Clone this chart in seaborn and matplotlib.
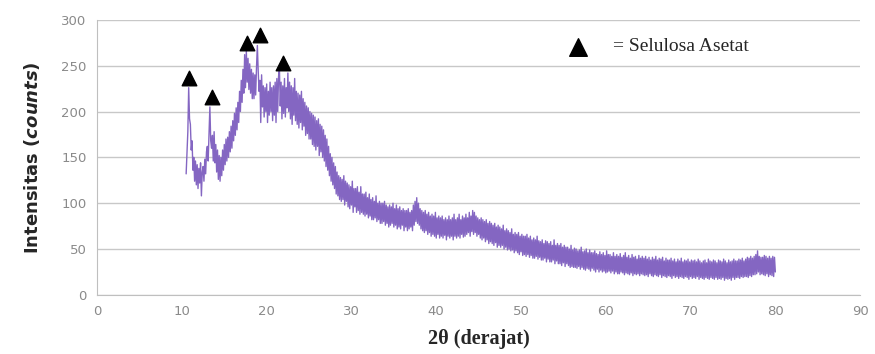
import numpy as np
import pandas as pd
import seaborn as sns
import matplotlib.pyplot as plt

# intensity, one value every 0.1 deg of 2-theta starting at 10.5
intensity = [
    132, 155, 178, 226, 192, 186, 158, 168, 136, 150,
    124, 146, 120, 142, 116, 138, 122, 144, 108, 134,
    140, 124, 148, 132, 156, 162, 146, 176, 205, 168,
    160, 174, 146, 178, 144, 164, 134, 158, 126, 152,
    124, 150, 130, 158, 136, 164, 142, 170, 146, 172,
    150, 178, 156, 184, 160, 190, 168, 198, 174, 204,
    180, 210, 188, 222, 200, 234, 210, 246, 220, 262,
    226, 266, 232, 258, 224, 252, 220, 246, 214, 242,
    214, 240, 218, 248, 272, 244, 222, 234, 188, 240,
    205, 228, 194, 226, 200, 230, 188, 222, 196, 232,
    200, 226, 190, 228, 196, 232, 188, 236, 200, 238,
    248, 206, 232, 192, 228, 198, 236, 194, 226, 204,
    242, 200, 232, 192, 228, 186, 226, 196, 236, 190,
    222, 186, 220, 182, 218, 188, 222, 180, 214, 184,
    210, 174, 206, 176, 204, 170, 200, 170, 198, 164,
    196, 162, 194, 158, 190, 162, 192, 152, 186, 156,
    184, 150, 180, 146, 174, 140, 170, 136, 162, 130,
    154, 124, 150, 120, 144, 116, 140, 110, 134, 108,
    130, 104, 128, 102, 126, 104, 130, 98, 124, 102,
    122, 96, 120, 94, 118, 98, 124, 90, 116, 96,
    116, 90, 118, 92, 112, 88, 118, 90, 110, 88,
    110, 86, 112, 88, 106, 84, 110, 86, 104, 82,
    106, 82, 102, 84, 108, 80, 100, 82, 102, 78,
    100, 78, 100, 80, 102, 76, 98, 78, 96, 74,
    98, 76, 96, 78, 100, 74, 94, 76, 98, 72,
    94, 74, 96, 72, 92, 76, 94, 70, 92, 74,
    92, 70, 94, 72, 90, 74, 92, 70, 98, 76,
    102, 80, 106, 78, 100, 76, 94, 72, 92, 70,
    90, 68, 92, 70, 88, 66, 90, 68, 86, 64,
    88, 66, 86, 64, 90, 62, 84, 66, 86, 62,
    84, 64, 86, 62, 82, 65, 84, 60, 82, 64,
    86, 62, 82, 64, 84, 60, 88, 64, 82, 62,
    84, 64, 88, 62, 82, 66, 86, 63, 84, 64,
    88, 66, 84, 68, 90, 64, 86, 69, 92, 66,
    90, 68, 86, 64, 84, 66, 82, 62, 84, 60,
    82, 62, 80, 58, 82, 60, 78, 56, 80, 58,
    78, 56, 76, 54, 78, 57, 74, 52, 76, 54,
    74, 52, 72, 54, 76, 50, 70, 52, 72, 49,
    70, 50, 68, 48, 72, 49, 66, 46, 68, 48,
    66, 46, 68, 44, 64, 47, 66, 43, 64, 44,
    64, 42, 66, 44, 62, 41, 64, 43, 60, 40,
    62, 40, 60, 42, 64, 39, 59, 41, 58, 38,
    60, 38, 56, 40, 59, 36, 58, 39, 56, 36,
    58, 36, 54, 38, 60, 34, 54, 37, 56, 34,
    54, 34, 56, 32, 52, 35, 54, 31, 52, 34,
    52, 32, 50, 30, 54, 31, 49, 30, 51, 30,
    50, 29, 48, 31, 49, 28, 52, 30, 47, 28,
    48, 27, 50, 29, 46, 28, 49, 26, 46, 29,
    46, 27, 48, 25, 45, 28, 44, 25, 47, 27,
    44, 25, 46, 26, 43, 24, 48, 25, 44, 26,
    44, 24, 42, 26, 46, 23, 42, 25, 44, 23,
    42, 23, 45, 25, 41, 24, 43, 22, 46, 24,
    41, 23, 43, 22, 40, 24, 44, 21, 41, 23,
    42, 22, 39, 23, 43, 21, 40, 23, 42, 22,
    40, 21, 42, 22, 39, 20, 41, 23, 38, 21,
    41, 20, 39, 22, 42, 21, 38, 20, 40, 22,
    39, 19, 41, 21, 37, 20, 40, 19, 38, 21,
    38, 20, 40, 18, 37, 21, 39, 19, 36, 20,
    39, 18, 37, 20, 40, 19, 36, 18, 38, 20,
    37, 19, 39, 17, 36, 20, 38, 18, 37, 19,
    38, 18, 36, 20, 39, 17, 37, 19, 35, 18,
    37, 17, 38, 19, 35, 18, 39, 17, 37, 19,
    36, 18, 38, 17, 37, 19, 35, 17, 38, 18,
    37, 17, 36, 19, 39, 16, 37, 18, 35, 17,
    38, 18, 36, 16, 37, 19, 39, 17, 37, 19,
    37, 19, 39, 18, 38, 20, 40, 19, 37, 20,
    39, 20, 41, 19, 40, 21, 42, 20, 40, 22,
    42, 22, 44, 23, 48, 25, 42, 22, 41, 23,
    41, 22, 43, 21, 42, 23, 40, 20, 42, 22,
    40, 21, 42, 20, 41, 25,
]
two_theta = np.round(10.5 + 0.1 * np.arange(len(intensity)), 1)

# peaks marked as cellulose acetate
peak_x = [10.8, 13.6, 17.7, 19.2, 21.9]
peak_y = [237, 216, 275, 283, 253]

x_ticks = [0, 10, 20, 30, 40, 50, 60, 70, 80, 90]
y_ticks = [0, 50, 100, 150, 200, 250, 300]

df = pd.DataFrame({"2theta": two_theta, "counts": intensity})

sns.set_style("white")
plt.rcParams["font.family"] = ["DejaVu Sans"]
plt.rcParams["path.simplify"] = False

fig, ax = plt.subplots(figsize=(8.75, 3.54), dpi=100)
fig.subplots_adjust(left=0.111, right=0.983, bottom=0.167, top=0.944)

sns.lineplot(data=df, x="2theta", y="counts", color="#8466c2", lw=1.0, ax=ax)
ax.scatter(peak_x, peak_y, marker="^", s=110, color="black", zorder=5)

ax.set_xlim(0, 90)
ax.set_ylim(0, 300)
ax.set_xticks(x_ticks)
ax.set_yticks(y_ticks)
ax.yaxis.grid(True, color="#c8c8c8", lw=1)
ax.set_axisbelow(True)

for s in ["top", "right"]:
    ax.spines[s].set_visible(False)
for s in ["left", "bottom"]:
    ax.spines[s].set_color("#bfbfbf")

ax.tick_params(axis="both", colors="#bfbfbf", length=4, width=1,
               labelcolor="#8a8a8a", labelsize=9.5)

ax.set_xlabel("2θ (derajat)", family="Liberation Serif", fontweight="bold",
              fontsize=14.5, labelpad=8)
ax.set_ylabel(r"Intensitas ($\mathbfit{counts}$)", fontweight="bold",
              fontsize=13, labelpad=14)

# legend drawn by hand like the original
ax.scatter([0.630], [0.902], marker="^", s=160, color="black",
           transform=ax.transAxes, clip_on=False, zorder=5)
ax.text(0.676, 0.902, "= Selulosa Asetat", transform=ax.transAxes,
        family="Liberation Serif", fontsize=14, va="center", ha="left")

plt.savefig("out.png", dpi=100)
